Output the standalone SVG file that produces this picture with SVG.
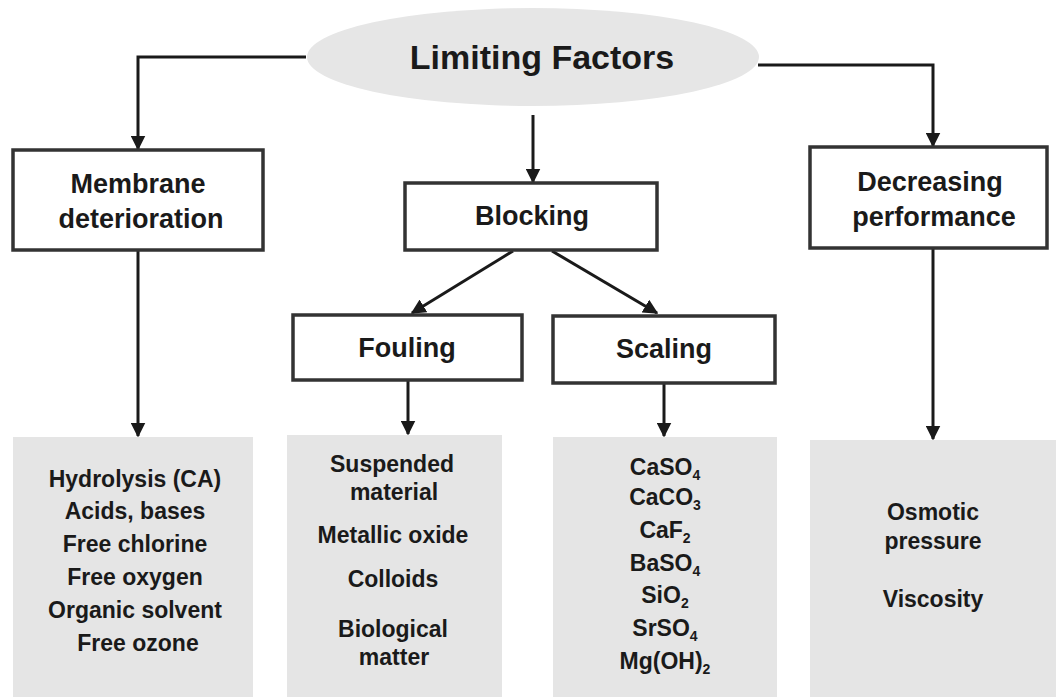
<svg xmlns="http://www.w3.org/2000/svg" width="1056" height="697" viewBox="0 0 1056 697">
<defs>
<marker id="ah" viewBox="0 0 10 10" refX="9" refY="5" markerWidth="5" markerHeight="5" orient="auto" markerUnits="strokeWidth">
<path d="M0,0 L10,5 L0,10 z" fill="#1a1a1a"/>
</marker>
<style>
.hdr{fill:#fff;stroke:#333;stroke-width:3.5}
.gry{fill:#e5e5e5;stroke:none}
.conn{fill:none;stroke:#1a1a1a;stroke-width:3;marker-end:url(#ah)}
text{font-family:"Liberation Sans",Arial,sans-serif;font-weight:bold;fill:#1a1a1a;text-anchor:middle}
.h{font-size:27px}
.t{font-size:23px}
.s{font-size:14px}
</style>
</defs>
<rect width="1056" height="697" fill="#fff"/>
<g id="connectors">
<path class="conn" d="M306,57 H138 V149"/>
<path class="conn" d="M758,65 H933 V146"/>
<path class="conn" d="M533,115 V182"/>
<path class="conn" d="M513,251 L412,313"/>
<path class="conn" d="M552,251 L657,313"/>
<path class="conn" d="M138,251 V436"/>
<path class="conn" d="M933,249 V439"/>
<path class="conn" d="M408,381 V434"/>
<path class="conn" d="M664,384 V436"/>
</g>
<g id="limiting-factors">
<ellipse cx="533" cy="57" rx="226" ry="49" fill="#e6e6e6"/>
<text x="542" y="69" style="font-size:34px">Limiting Factors</text>
</g>
<g id="membrane-deterioration">
<rect class="hdr" x="13" y="150" width="250" height="100"/>
<text class="h" x="138" y="193">Membrane</text>
<text class="h" x="141" y="228">deterioration</text>
</g>
<g id="blocking">
<rect class="hdr" x="405" y="183" width="252" height="67"/>
<text class="h" x="532" y="225">Blocking</text>
</g>
<g id="decreasing-performance">
<rect class="hdr" x="810" y="147" width="237" height="101"/>
<text class="h" x="930" y="191">Decreasing</text>
<text class="h" x="934" y="226">performance</text>
</g>
<g id="fouling">
<rect class="hdr" x="293" y="315" width="229" height="65"/>
<text class="h" x="407" y="357">Fouling</text>
</g>
<g id="scaling">
<rect class="hdr" x="553" y="316" width="222" height="67"/>
<text class="h" x="664" y="358">Scaling</text>
</g>
<g id="deterioration-causes">
<rect class="gry" x="13" y="437" width="240" height="260"/>
<text class="t" x="135" y="487">Hydrolysis (CA)</text>
<text class="t" x="135" y="519">Acids, bases</text>
<text class="t" x="135" y="552">Free chlorine</text>
<text class="t" x="135" y="585">Free oxygen</text>
<text class="t" x="135" y="618">Organic solvent</text>
<text class="t" x="138" y="651">Free ozone</text>
</g>
<g id="fouling-causes">
<rect class="gry" x="287" y="435" width="215" height="262"/>
<text class="t" x="392" y="472">Suspended</text>
<text class="t" x="394" y="500">material</text>
<text class="t" x="393" y="543">Metallic oxide</text>
<text class="t" x="393" y="587">Colloids</text>
<text class="t" x="393" y="637">Biological</text>
<text class="t" x="394" y="665">matter</text>
</g>
<g id="scaling-causes">
<rect class="gry" x="553" y="437" width="224" height="260"/>
<text class="t" x="665" y="475">CaSO<tspan class="s" dy="5">4</tspan></text>
<text class="t" x="665" y="505">CaCO<tspan class="s" dy="5">3</tspan></text>
<text class="t" x="665" y="538">CaF<tspan class="s" dy="5">2</tspan></text>
<text class="t" x="665" y="571">BaSO<tspan class="s" dy="5">4</tspan></text>
<text class="t" x="665" y="603">SiO<tspan class="s" dy="5">2</tspan></text>
<text class="t" x="665" y="636">SrSO<tspan class="s" dy="5">4</tspan></text>
<text class="t" x="665" y="669">Mg(OH)<tspan class="s" dy="5">2</tspan></text>
</g>
<g id="performance-causes">
<rect class="gry" x="810" y="440" width="246" height="257"/>
<text class="t" x="933" y="520">Osmotic</text>
<text class="t" x="933" y="549">pressure</text>
<text class="t" x="933" y="607">Viscosity</text>
</g>
</svg>
